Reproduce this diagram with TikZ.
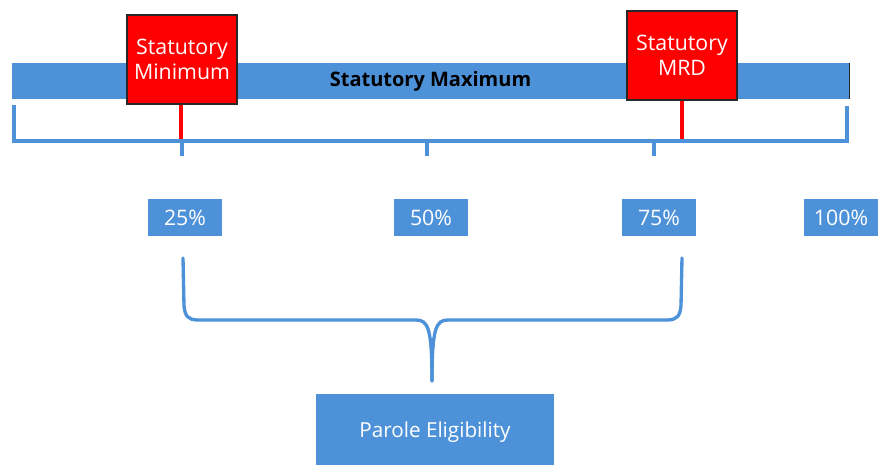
\documentclass[tikz,border=0pt]{standalone}
\usepackage{fontspec}
\setmainfont{Open Sans}
\usepackage{tikz}
\usetikzlibrary{positioning}

\definecolor{barblue}{RGB}{77,146,217}
\definecolor{flagred}{RGB}{255,0,0}

\begin{document}
\begin{tikzpicture}[x=0.75pt,y=0.75pt,yscale=-1,xscale=1,
  pctbox/.style={fill=barblue,text=white,inner sep=0pt,minimum width=55.5pt,minimum height=27.75pt,font=\fontsize{16}{18}\selectfont},
  flagbox/.style={fill=flagred,draw={rgb,255:red,40;green,40;blue,40},line width=0.9pt,text=white,inner sep=0pt,minimum width=82.5pt,minimum height=66.75pt,align=center,font=\fontsize{16}{18.5}\selectfont},
  bracket/.style={draw=barblue,line width=3.6pt},
  pinline/.style={draw=flagred,line width=3.4pt},
  brace/.style={draw=barblue,line width=2.5pt,line cap=round,line join=round}]
\useasboundingbox (0,0) rectangle (878,464);

%Bar
\node (maxbar) [fill=barblue,inner sep=0pt,minimum width=627.75pt,minimum height=27pt,font=\bfseries\fontsize{15}{17}\selectfont] at (430.5,81) {Statutory Maximum};
\draw [line width=0.8pt,color={rgb,255:red,40;green,40;blue,40}] (maxbar.north east) -- (maxbar.south east);

%Bracket under the bar
\draw [bracket] (14,105) -- (14,141) -- (847,141) -- (847,106);
% ticks
\coordinate (t25) at (182,141);
\coordinate (t50) at (427,141);
\coordinate (t75) at (654,141);
\draw [bracket] (t25) -- ++(0,15);
\draw [bracket] (t50) -- ++(0,15);
\draw [bracket] (t75) -- ++(0,15);

%Flags
\node (minbox) [flagbox] at (182,59.5) {Statutory\\Minimum};
\node (mrdbox) [flagbox] at (682,55.5) {Statutory\\MRD};
\coordinate (minpin) at (181,139);
\coordinate (mrdpin) at (682,139);
\draw [pinline] (minbox.south -| minpin) -- (minpin);
\draw [pinline] (mrdbox.south) -- (mrdpin);

% Text Node
\node (p25) [pctbox] at (185,217.5) {25\%};
% Text Node
\node (p50) [pctbox] at (431,217.5) {50\%};
% Text Node
\node (p75) [pctbox] at (659,217.5) {75\%};
% Text Node
\node (p100) [pctbox] at (841,217.5) {100\%};

%Curly brace
\coordinate (bl) at (183,258);
\coordinate (br) at (682,258);
\coordinate (tip) at (432,381);
\draw [brace] (bl) -- (184,306) .. controls (185,316) and (188,320) .. (198,320) -- (416,320) .. controls (428,320) and (432,328) .. (tip);
\draw [brace] (tip) .. controls (432,328) and (436,320) .. (448,320) -- (667,320) .. controls (677,320) and (680,316) .. (681,306) -- (br);

%Parole box
\node (parole) [fill=barblue,text=white,inner sep=0pt,minimum width=178.5pt,minimum height=57pt,font=\fontsize{15.5}{18}\selectfont] at (435,432) {Parole Eligibility};

\end{tikzpicture}
\end{document}
